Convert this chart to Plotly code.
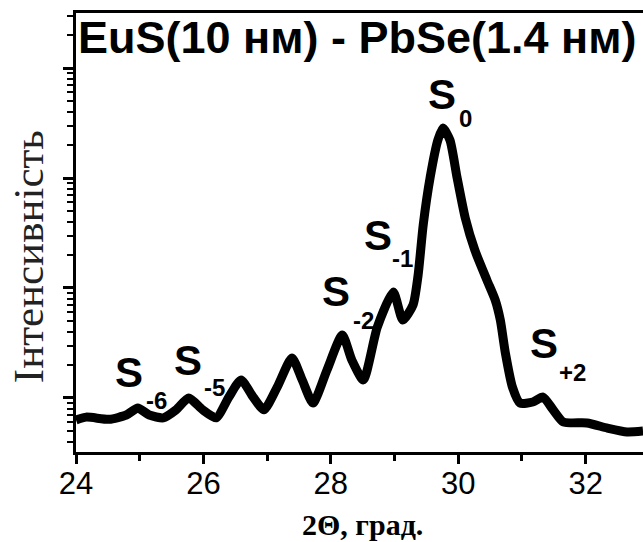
import plotly.graph_objects as go

# Data (2Theta in degrees, intensity in arbitrary units, log scale)
two_theta = [24.00, 24.16, 24.52, 24.79, 24.97, 25.15, 25.37, 25.57, 25.77, 25.99,
             26.20, 26.40, 26.59, 26.78, 26.95, 27.16, 27.39, 27.55, 27.72, 27.94,
             28.18, 28.33, 28.51, 28.73, 28.98, 29.13, 29.29, 29.37, 29.45, 29.56,
             29.68, 29.76, 29.87, 29.98, 30.11, 30.26, 30.45, 30.58, 30.66, 30.74,
             30.85, 30.97, 31.17, 31.33, 31.49, 31.65, 32.02, 32.34, 32.65, 32.90]
intensity = [0.63, 0.67, 0.64, 0.70, 0.81, 0.70, 0.66, 0.78, 1.00, 0.78,
             0.66, 1.02, 1.46, 1.02, 0.78, 1.26, 2.31, 1.46, 0.90, 1.80,
             3.74, 2.21, 1.46, 4.42, 9.2, 5.12, 7.0, 13.1, 37.4, 102,
             221, 285, 221, 102, 43.3, 22.1, 11.8, 7.78, 5.12, 2.56,
             1.26, 0.90, 0.92, 1.02, 0.78, 0.605, 0.593, 0.533, 0.491, 0.50]

# Peak labels: main text, subscript
peak_names = ["S", "S", "S", "S", "S", "S"]
peak_subs = ["-6", "-5", "-2", "-1", "0", "+2"]
# label anchor positions (x in degrees, y as log10 intensity)
label_x = [24.83, 25.76, 28.08, 28.74, 29.75, 31.35]
label_y = [0.236, 0.345, 0.964, 1.473, 2.755, 0.491]
sub_x = [25.26, 26.17, 28.51, 29.13, 30.11, 31.79]
sub_y = [-0.027, 0.091, 0.709, 1.264, 2.545, 0.236]

title_text = "EuS(10 нм) - PbSe(1.4 нм)"
x_title = "2Θ, град."
y_title = "Інтенсивність"

fig = go.Figure()
fig.add_trace(go.Scatter(x=two_theta, y=intensity, mode="lines",
                         line=dict(color="black", width=9, shape="spline", smoothing=0.6),
                         hoverinfo="skip", showlegend=False))

annotations = []
for n, sx, sy in zip(peak_names, label_x, label_y):
    annotations.append(dict(x=sx, y=sy, xref="x", yref="y", text="<b>%s</b>" % n,
                            showarrow=False, font=dict(family="Liberation Sans, Arial", size=42, color="black")))
for s, sx, sy in zip(peak_subs, sub_x, sub_y):
    annotations.append(dict(x=sx, y=sy, xref="x", yref="y", text="<b>%s</b>" % s,
                            showarrow=False, font=dict(family="Liberation Sans, Arial", size=24, color="black")))

annotations.append(dict(x=0.0, y=0.944, xref="paper", yref="paper", xanchor="left", yanchor="middle",
                        text="<b>%s</b>" % title_text, showarrow=False,
                        font=dict(family="Liberation Sans, Arial", size=45, color="black")))
annotations.append(dict(x=0.506, y=-0.166, xref="paper", yref="paper", xanchor="center", yanchor="middle",
                        text="<b>%s</b>" % x_title, showarrow=False,
                        font=dict(family="Liberation Serif, Times New Roman", size=30, color="black")))
annotations.append(dict(x=-0.0847, y=0.446, xref="paper", yref="paper", xanchor="center", yanchor="middle",
                        text=y_title, textangle=-90, showarrow=False,
                        font=dict(family="Liberation Serif, Times New Roman", size=43, color="#222")))

fig.update_layout(
    width=643, height=542,
    margin=dict(l=76, r=0, t=13, b=90),
    paper_bgcolor="white", plot_bgcolor="white",
    annotations=annotations,
    xaxis=dict(range=[24, 32.90], dtick=2, tick0=24, ticks="outside", ticklen=9, tickwidth=3,
               tickcolor="black", showline=True, linewidth=3, linecolor="black", mirror=True,
               showgrid=False, zeroline=False, ticklabelstandoff=-7,
               tickfont=dict(family="Liberation Sans, Arial", size=31, color="black"),
               minor=dict(dtick=1, ticks="outside", ticklen=6, tickwidth=3, tickcolor="black", showgrid=False)),
    yaxis=dict(type="log", range=[-0.491, 3.5], dtick=1, ticks="outside", ticklen=10, tickwidth=3,
               tickcolor="black", showline=True, linewidth=3, linecolor="black",
               showgrid=False, zeroline=False, showticklabels=False,
               minor=dict(dtick="D1", ticks="outside", ticklen=6, tickwidth=2, tickcolor="black", showgrid=False)),
)

# remove the default page margin so the figure fills the window exactly
fig.write_html("out.html", config={"displayModeBar": False},
               post_script="document.body.style.margin='0';")
